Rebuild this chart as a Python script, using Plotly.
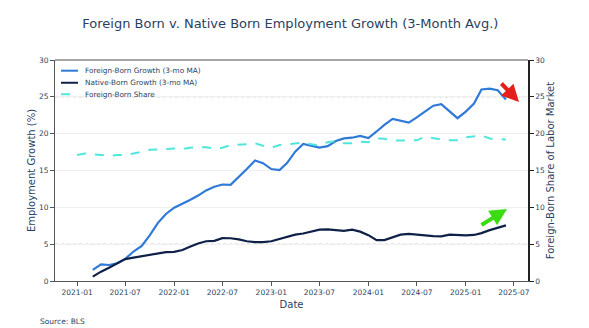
import plotly.graph_objects as go
import pandas as pd

growth_dates = pd.date_range("2021-03-01", "2025-06-01", freq="MS")
share_dates = pd.date_range("2021-01-01", "2025-06-01", freq="MS")

foreign_growth = [1.5, 2.27, 2.17, 2.4, 3.0, 4.0, 4.75, 6.2, 7.9, 9.1,
                  9.95, 10.45, 11.0, 11.6, 12.3, 12.8, 13.1, 13.05, 14.1, 15.2, 16.35, 16.0,
                  15.2, 15.05, 16.0, 17.55, 18.6, 18.35, 18.1, 18.3, 19.0, 19.35, 19.45, 19.7,
                  19.4, 20.3, 21.2, 22.0, 21.8, 21.5, 22.2, 23.0, 23.8, 24.0, 23.0, 22.1,
                  23.0, 24.1, 26.0, 26.1, 25.9, 24.65]

native_growth = [0.6, 1.27, 1.8, 2.4, 2.98, 3.17, 3.35, 3.48, 3.75, 3.93,
                 3.95, 4.2, 4.65, 5.1, 5.4, 5.45, 5.82, 5.8, 5.65, 5.4, 5.27, 5.27,
                 5.4, 5.7, 6.0, 6.3, 6.45, 6.75, 6.98, 7.0, 6.9, 6.8, 6.97, 6.7,
                 6.22, 5.55, 5.55, 5.97, 6.3, 6.4, 6.35, 6.2, 6.1, 6.05, 6.3, 6.25,
                 6.2, 6.25, 6.5, 6.9, 7.2, 7.55]

foreign_share = [17.1, 17.3, 17.2, 17.1, 17.0, 17.1, 17.1, 17.3, 17.55, 17.8, 17.85, 17.9,
                 18.0, 17.9, 18.1, 18.15, 18.15, 18.0, 18.1, 18.45, 18.45, 18.55, 18.7, 18.35,
                 18.1, 18.45, 18.55, 18.65, 18.8, 18.55, 18.4, 18.85, 19.0, 18.7, 18.7, 18.9,
                 18.85, 19.35, 19.3, 19.05, 19.1, 19.1, 19.1, 19.6, 19.35, 19.2, 19.1, 19.1,
                 19.5, 19.6, 19.75, 19.35, 19.25, 19.2]

series_names = ["Foreign-Born Growth (3-mo MA)", "Native-Born Growth (3-mo MA)", "Foreign-Born Share"]
series_colors = ["#2f7ad8", "#0f2148", "#4fe6dc"]
series_dash = ["solid", "solid", "dash"]

tick_vals = ["2021-01-01", "2021-07-01", "2022-01-01", "2022-07-01", "2023-01-01",
             "2023-07-01", "2024-01-01", "2024-07-01", "2025-01-01", "2025-07-01"]
tick_text = ["2021-01", "2021-07", "2022-01", "2022-07", "2023-01",
             "2023-07", "2024-01", "2024-07", "2025-01", "2025-07"]

FONT = "DejaVu Sans"
TXT = "#2a3f5f"

fig = go.Figure()
fig.add_trace(go.Scatter(x=growth_dates, y=foreign_growth, mode="lines",
                         name=series_names[0],
                         line=dict(color=series_colors[0], width=2.2)))
fig.add_trace(go.Scatter(x=growth_dates, y=native_growth, mode="lines",
                         name=series_names[1],
                         line=dict(color=series_colors[1], width=2.2)))
fig.add_trace(go.Scatter(x=share_dates, y=foreign_share, mode="lines",
                         name=series_names[2],
                         line=dict(color=series_colors[2], width=2, dash="dash"),
                         yaxis="y2"))

for yv in [5, 25]:
    fig.add_shape(type="line", xref="paper", x0=0, x1=1, yref="y", y0=yv, y1=yv,
                  line=dict(color="#bbbbbb", width=1, dash="dot"), layer="below")
fig.add_shape(type="line", xref="paper", x0=0, x1=1, yref="paper", y0=1, y1=1,
              line=dict(color="#888888", width=1.5))

# legend drawn in the upper-left corner
leg_rows = [0.9516, 0.897, 0.845]
for name, col, dash, yy in zip(series_names, series_colors, series_dash, leg_rows):
    fig.add_shape(type="line", xref="paper", yref="paper", x0=0.0127, x1=0.0486,
                  y0=yy, y1=yy, line=dict(color=col, width=2, dash=dash))
    fig.add_annotation(text=name, xref="paper", yref="paper", x=0.0592, y=yy,
                       xanchor="left", yanchor="middle", showarrow=False,
                       font=dict(size=7.3, color=TXT))

fig.update_layout(
    width=589, height=328,
    margin=dict(l=55, r=61, t=60, b=47),
    paper_bgcolor="white", plot_bgcolor="white",
    font=dict(family=FONT, color=TXT, size=8),
    title=dict(text="Foreign Born v. Native Born Employment Growth (3-Month Avg.)",
               x=0.493, xanchor="center", y=0.93, yanchor="middle",
               font=dict(family=FONT, size=13, color=TXT)),
    xaxis=dict(range=["2020-10-10", "2025-08-23"], tickvals=tick_vals, ticktext=tick_text,
               showgrid=False, showline=True, linecolor="#555555", linewidth=1,
               ticks="outside", ticklen=4, tickcolor="#555555",
               tickfont=dict(size=7.5, color=TXT),
               title=dict(text="Date", font=dict(size=10, color=TXT), standoff=4),
               zeroline=False),
    yaxis=dict(range=[0, 30], tickvals=[0, 5, 10, 15, 20, 25, 30],
               showgrid=True, gridcolor="#f0f0f0", gridwidth=1,
               showline=True, linecolor="#555555", linewidth=1,
               ticks="outside", ticklen=4, tickcolor="#555555",
               tickfont=dict(size=7.5, color=TXT),
               title=dict(text="Employment Growth (%)", font=dict(size=10, color=TXT), standoff=1),
               zeroline=False),
    yaxis2=dict(range=[0, 30], tickvals=[0, 5, 10, 15, 20, 25, 30],
                overlaying="y", side="right", showgrid=False,
                showline=True, linecolor="#222222", linewidth=1.5,
                ticks="outside", ticklen=4, tickcolor="#222222",
                tickfont=dict(size=7.5, color=TXT),
                title=dict(text="Foreign-Born Share of Labor Market",
                           font=dict(size=10, color=TXT), standoff=3),
                zeroline=False),
    showlegend=False,
)

fig.add_annotation(text="Source: BLS", xref="paper", yref="paper",
                   x=-0.035, y=-0.185, xanchor="left", yanchor="middle",
                   showarrow=False, font=dict(size=7.5, color=TXT))

# red arrow (down-right)
fig.add_annotation(xref="paper", yref="paper", x=(519 - 55) / 473, y=(281 - 102) / 221,
                   ax=-19, ay=-20, showarrow=True, arrowhead=2, arrowsize=0.85,
                   arrowwidth=4, arrowcolor="#e3201b", text="")
# green arrow (up-right)
fig.add_annotation(xref="paper", yref="paper", x=(507 - 55) / 473, y=(281 - 209) / 221,
                   ax=-27, ay=17, showarrow=True, arrowhead=2, arrowsize=0.85,
                   arrowwidth=4, arrowcolor="#3bdc14", text="")

fig.write_html("out.html")
